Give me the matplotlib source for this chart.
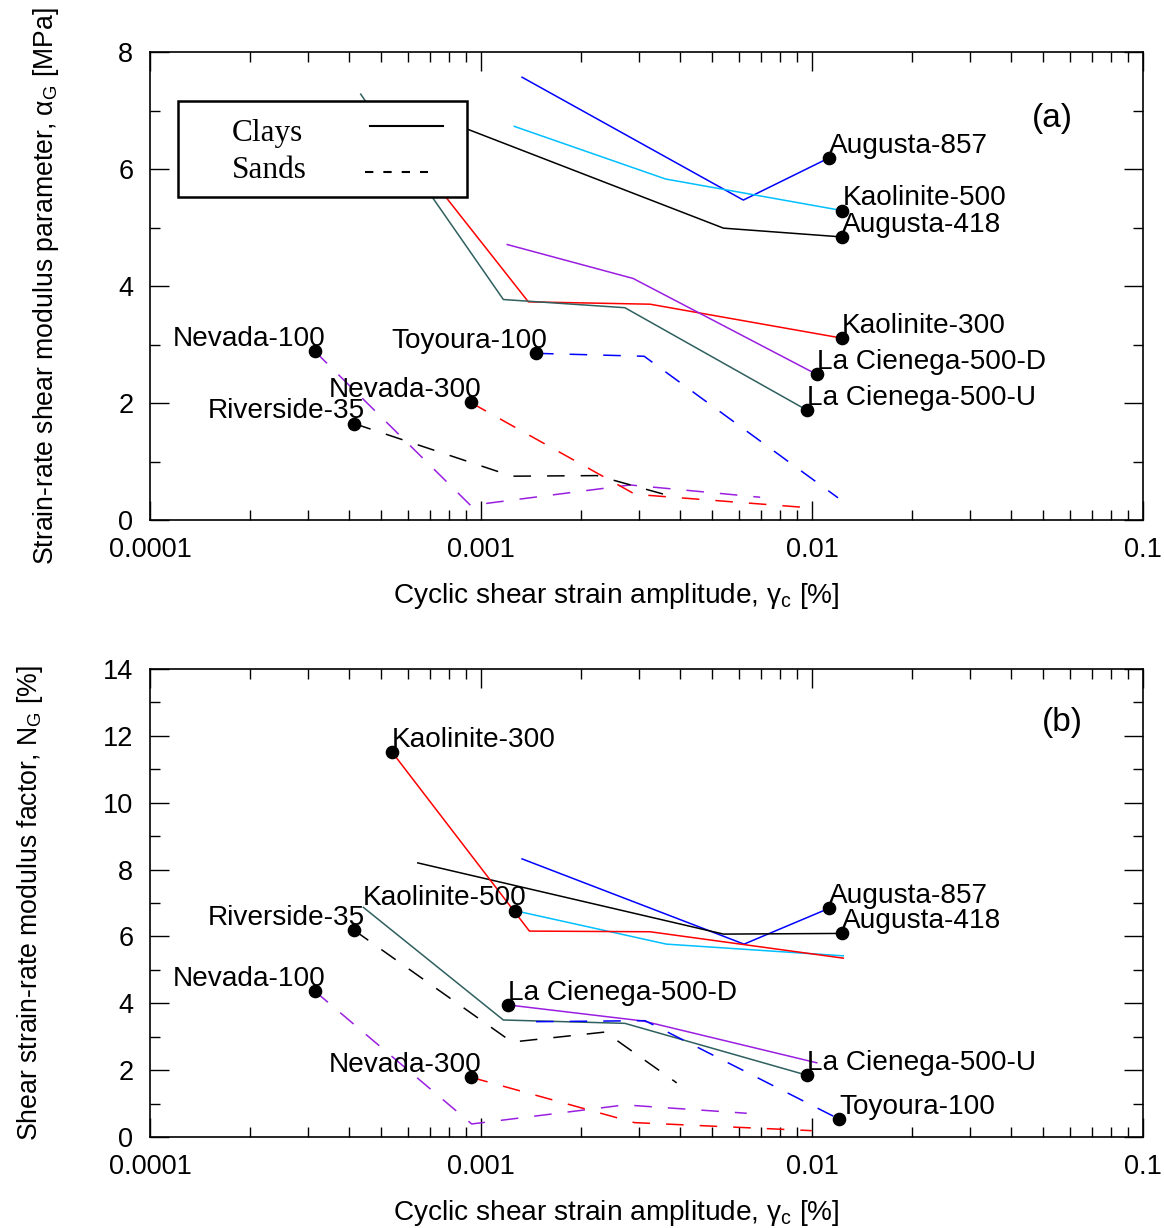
import numpy as np
import matplotlib
matplotlib.use("Agg")
import matplotlib.pyplot as plt
from matplotlib.patches import Rectangle
from matplotlib.ticker import FixedLocator, FuncFormatter, NullFormatter, LogLocator, MultipleLocator

plt.rcParams['font.family'] = ['Liberation Sans', 'DejaVu Sans']
plt.rcParams['mathtext.fontset'] = 'custom'
plt.rcParams['mathtext.rm'] = 'Liberation Sans'

# Series names, colours and line styles (clays solid, sands dashed)
names = ["Augusta-857", "Kaolinite-500", "Augusta-418", "Kaolinite-300", "La Cienega-500-D",
         "La Cienega-500-U", "Toyoura-100", "Nevada-100", "Nevada-300", "Riverside-35"]
colors = ["#0000ff", "#00bfff", "#000000", "#ff0000", "#9a1ee0",
          "#2f5f5f", "#0000ff", "#9a1ee0", "#ff0000", "#000000"]
is_sand = [False, False, False, False, False, False, True, True, True, True]

# (a) strain-rate shear modulus parameter [MPa]
x_a = [
    [0.00133, 0.0062, 0.01125],
    [0.00126, 0.00361, 0.01234],
    [0.000644, 0.0054, 0.0123],
    [0.000538, 0.00139, 0.00324, 0.0123],
    [0.0012, 0.00288, 0.01033],
    [0.000433, 0.001168, 0.00272, 0.00964],
    [0.001466, 0.00311, 0.01198],
    [0.000314, 0.00093, 0.00282, 0.00697],
    [0.00093, 0.00292, 0.0093],
    [0.000413, 0.00124, 0.00224, 0.0039],
]
y_a = [
    [7.57, 5.47, 6.19],
    [6.73, 5.83, 5.29],
    [7.01, 4.99, 4.84],
    [6.69, 3.73, 3.69, 3.11],
    [4.71, 4.13, 2.49],
    [7.28, 3.77, 3.63, 1.88],
    [2.85, 2.80, 0.38],
    [2.89, 0.25, 0.60, 0.39],
    [2.01, 0.44, 0.22],
    [1.65, 0.75, 0.76, 0.38],
]
mark_a = [-1, -1, -1, -1, -1, -1, 0, 0, 0, 0]
align_a = ["left"] * 6 + ["right"] * 4

# (b) shear strain-rate modulus factor [%]
x_b = [
    [0.00133, 0.00623, 0.01125],
    [0.001267, 0.00363, 0.01243],
    [0.000644, 0.0054, 0.0123],
    [0.000538, 0.0014, 0.00324, 0.01243],
    [0.00121, 0.00309, 0.01033],
    [0.000441, 0.001168, 0.00272, 0.00964],
    [0.001466, 0.00313, 0.0121],
    [0.000314, 0.000937, 0.00272, 0.00635],
    [0.00093, 0.00291, 0.00998],
    [0.000413, 0.00124, 0.00237, 0.0039],
]
y_b = [
    [8.32, 5.77, 6.84],
    [6.77, 5.77, 5.42],
    [8.2, 6.07, 6.09],
    [11.52, 6.16, 6.14, 5.35],
    [3.95, 3.47, 2.22],
    [6.87, 3.50, 3.40, 1.85],
    [3.45, 3.48, 0.53],
    [4.37, 0.39, 0.96, 0.71],
    [1.79, 0.43, 0.19],
    [6.19, 2.84, 3.14, 1.62],
]
mark_b = [-1, 0, -1, 0, 0, -1, -1, 0, 0, 0]
align_b = ["left", "right", "left", "left", "left", "left", "left", "right", "right", "right"]

x_ticks = [0.0001, 0.001, 0.01, 0.1]


def draw_panel(ax, xs, ys, marks, aligns, ymax, ylabel, tag, tagpos):
    for i in range(len(names)):
        if is_sand[i]:
            ax.plot(xs[i], ys[i], color=colors[i], lw=1.1, dashes=(11.5, 10.5), zorder=2)
        else:
            ax.plot(xs[i], ys[i], color=colors[i], lw=1.1, zorder=2)
        k = marks[i]
        ax.plot(xs[i][k], ys[i][k], 'o', color='black', ms=8.8, zorder=3)
        dx = 0 if aligns[i] == "left" else 8
        ax.annotate(names[i], (xs[i][k], ys[i][k]), xytext=(dx, 8.8), textcoords='offset points',
                    ha=aligns[i], va='center', fontsize=20.2, zorder=4)

    ax.set_xscale('log')
    ax.set_xlim(1e-4, 1e-1)
    ax.set_ylim(0, ymax)
    ax.xaxis.set_major_locator(FixedLocator(x_ticks))
    ax.xaxis.set_major_formatter(FuncFormatter(lambda v, p: '%g' % v))
    ax.xaxis.set_minor_locator(LogLocator(base=10, subs=np.arange(2, 10)))
    ax.xaxis.set_minor_formatter(NullFormatter())
    ax.yaxis.set_major_locator(MultipleLocator(2))
    ax.yaxis.set_minor_locator(MultipleLocator(1))
    ax.tick_params(which='both', direction='in', top=True, right=True, width=1.0,
                   labelsize=19.5, pad=12)
    ax.tick_params(which='major', length=14)
    ax.tick_params(which='minor', length=7)
    for s in ax.spines.values():
        s.set_linewidth(1.2)
    ax.set_xlabel('Cyclic shear strain amplitude, γ$_{\\mathrm{c}}$ [%]', fontsize=20.2, labelpad=13)
    ax.xaxis.label.set_x(0.47)
    ax.set_ylabel(ylabel, fontsize=19.2, labelpad=41.5)
    ax.text(tagpos[0], tagpos[1], tag, transform=ax.transAxes, fontsize=24, ha='center', va='center')


fig = plt.figure(figsize=(11.64, 12.28), dpi=100)
ax1 = fig.add_axes([0.1289, 0.5765, 0.8531, 0.3811])
ax2 = fig.add_axes([0.1289, 0.0741, 0.8531, 0.3811])

draw_panel(ax1, x_a, y_a, mark_a, align_a, 8,
           'Strain-rate shear modulus parameter, α$_{\\mathrm{G}}$ [MPa]', '(a)', (0.909, 0.859))
draw_panel(ax2, x_b, y_b, mark_b, align_b, 14,
           'Shear strain-rate modulus factor, N$_{\\mathrm{G}}$ [%]', '(b)', (0.919, 0.885))

# legend box drawn by hand: text left, line sample right
ax1.add_patch(Rectangle((0.0282, 0.690), 0.291, 0.205, transform=ax1.transAxes,
                        facecolor='white', edgecolor='black', lw=1.8, zorder=5))
ax1.text(0.0826, 0.8250, 'Clays', transform=ax1.transAxes, family='Liberation Serif',
         fontsize=22.5, va='center', zorder=6)
ax1.text(0.0826, 0.7460, 'Sands', transform=ax1.transAxes, family='Liberation Serif',
         fontsize=22.5, va='center', zorder=6)
ax1.plot([0.2216, 0.2954], [0.8425, 0.8425], transform=ax1.transAxes, color='black', lw=1.5, zorder=6)
ax1.plot([0.2165, 0.2803], [0.7442, 0.7442], transform=ax1.transAxes, color='black', lw=1.5,
         dashes=(4, 4.8), zorder=6)

fig.savefig('out.png', dpi=100)
